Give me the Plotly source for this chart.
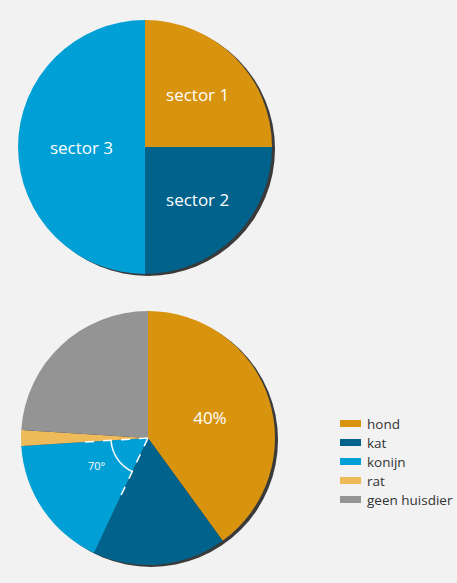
import math

from plotly import graph_objects as go

# top pie
sector_labels = ['sector 1', 'sector 2', 'sector 3']
sector_values = [25, 25, 50]
sector_colors = ['#D8930F', '#01628B', '#00A0D7']

# bottom pie (percentages)
pet_labels = ['hond', 'kat', 'konijn', 'rat', 'geen huisdier']
pet_values = [40, 17, 17, 2, 24]
pet_text = ['40%', '', '', '', '']
pet_colors = ['#D8930F', '#01628B', '#00A0D7', '#EFBA5A', '#949494']

angle_label = '70°'

W, H = 457, 583
BG = '#F2F2F2'
FONT = 'Open Sans'
R = 127
top_c = (145, 147)
bot_c = (148, 438)


def pie_domain(c, r):
    cx, cy = c
    return dict(x=[(cx - r) / W, (cx + r) / W],
                y=[1 - (cy + r) / H, 1 - (cy - r) / H])


def polar(c, r, deg):
    """Point on a clockwise-from-12 angle, pixel coords (y down)."""
    a = math.radians(deg)
    return c[0] + r * math.sin(a), c[1] - r * math.cos(a)


fig = go.Figure()

fig.add_trace(go.Pie(
    labels=sector_labels,
    values=sector_values,
    marker=dict(colors=sector_colors, line=dict(width=0)),
    sort=False,
    direction='clockwise',
    textinfo='label',
    textposition='inside',
    insidetextorientation='horizontal',
    textfont=dict(color='white', size=17, family=FONT),
    domain=pie_domain(top_c, R),
    showlegend=False,
    hoverinfo='label+percent',
))

fig.add_trace(go.Pie(
    labels=pet_labels,
    values=pet_values,
    text=pet_text,
    marker=dict(colors=pet_colors, line=dict(width=0)),
    sort=False,
    direction='clockwise',
    textinfo='text',
    textposition='inside',
    insidetextorientation='horizontal',
    textfont=dict(color='white', size=17, family=FONT),
    domain=pie_domain(bot_c, R),
    showlegend=False,
    hoverinfo='label+percent',
))

shapes = []
# drop shadows behind both pies
for c in (top_c, bot_c):
    shapes.append(dict(type='circle', xref='x', yref='y', layer='below',
                       x0=c[0] - R + 3, x1=c[0] + R + 3,
                       y0=c[1] - R + 2, y1=c[1] + R + 2,
                       fillcolor='#3A3A3A', line=dict(width=0)))

# konijn wedge edges, from the data
total = sum(pet_values)
a0 = sum(pet_values[:2]) / total * 360
a1 = sum(pet_values[:3]) / total * 360
for a in (a0, a1):
    x1, y1 = polar(bot_c, 68, a)
    shapes.append(dict(type='line', xref='x', yref='y', layer='above',
                       x0=bot_c[0], y0=bot_c[1], x1=x1, y1=y1,
                       line=dict(color='white', width=1.5, dash='dash')))

# angle arc
pts = [polar(bot_c, 37, a0 + (a1 - a0) * k / 30) for k in range(31)]
path = 'M' + ' L'.join(f'{x:.2f},{y:.2f}' for x, y in pts)
shapes.append(dict(type='path', xref='x', yref='y', layer='above', path=path,
                   line=dict(color='white', width=1.5)))

annotations = [dict(x=97, y=465, xref='x', yref='y', text=angle_label,
                    showarrow=False, font=dict(color='white', size=11, family=FONT))]

# legend
for i, (lab, col) in enumerate(zip(pet_labels, pet_colors)):
    yc = 423.5 + 19 * i
    shapes.append(dict(type='rect', xref='x', yref='y', layer='above',
                       x0=340, x1=361, y0=yc - 3.5, y1=yc + 3.5,
                       fillcolor=col, line=dict(width=0)))
    annotations.append(dict(x=365, y=yc, xref='x', yref='y', text=lab,
                            xanchor='left', yanchor='middle', showarrow=False,
                            font=dict(color='#333333', size=13.5, family=FONT)))

fig.update_layout(
    width=W, height=H,
    margin=dict(l=0, r=0, t=0, b=0),
    paper_bgcolor=BG, plot_bgcolor=BG,
    xaxis=dict(range=[0, W], visible=False, fixedrange=True),
    yaxis=dict(range=[H, 0], visible=False, fixedrange=True),
    shapes=shapes,
    annotations=annotations,
    showlegend=False,
)

# drop the page's default 8px body margin so the figure fills the window
fig.write_html(
    'out.html',
    config=dict(displayModeBar=False),
    post_script="document.body.style.margin='0';"
                "document.body.style.overflow='hidden';"
                f"document.body.style.background='{BG}';",
)
